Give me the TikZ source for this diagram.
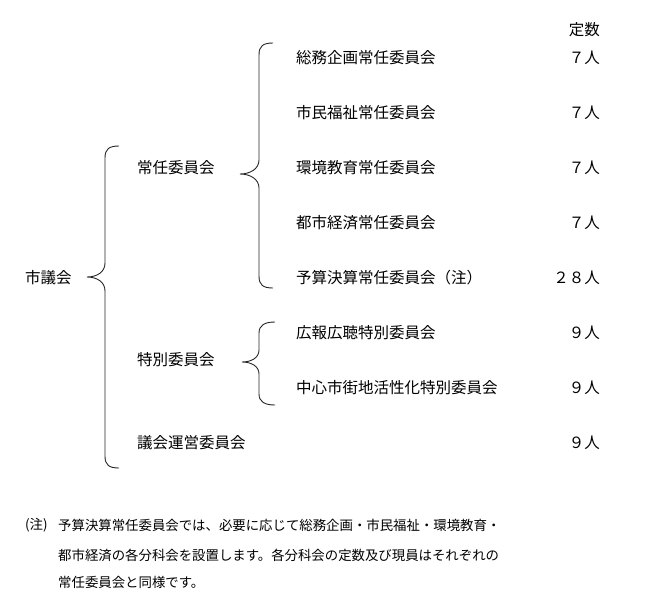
\documentclass[tikz,border=0pt]{standalone}
\usepackage{fontspec}
\setmainfont{Noto Sans CJK JP}
\tikzset{
  lbl/.style={anchor=west, inner sep=0pt, font=\fontsize{15.5pt}{17pt}\selectfont},
  num/.style={anchor=east, inner sep=0pt, font=\fontsize{15.5pt}{17pt}\selectfont},
  note/.style={anchor=west, inner sep=0pt, font=\fontsize{13.4pt}{15pt}\selectfont},
  brace/.style={draw=black!85, line width=0.9pt}
}
\begin{document}
\begin{tikzpicture}[x=1pt,y=-1pt]
\useasboundingbox (0,0) rectangle (650,608);
% header
\node[num] (hdr) at (600,30) {定数};
% level 1
\node[lbl] (shi) at (25,278) {市議会};
% level 2
\node[lbl] (jonin) at (137,168) {常任委員会};
\node[lbl] (tokubetsu) at (137,360) {特別委員会};
\node[lbl] (unei) at (137,443) {議会運営委員会};
% level 3
\node[lbl] (c1) at (296,58) {総務企画常任委員会};
\node[lbl] (c2) at (296,113) {市民福祉常任委員会};
\node[lbl] (c3) at (296,168) {環境教育常任委員会};
\node[lbl] (c4) at (296,223) {都市経済常任委員会};
\node[lbl] (c5) at (296,278) {予算決算常任委員会（注）};
\node[lbl] (s1) at (296,333) {広報広聴特別委員会};
\node[lbl] (s2) at (296,388) {中心市街地活性化特別委員会};
% numbers
\node[num] (n1) at (600,58) {７人};
\node[num] (n2) at (600,113) {７人};
\node[num] (n3) at (600,168) {７人};
\node[num] (n4) at (600,223) {７人};
\node[num] (n5) at (600,278) {２８人};
\node[num] (n6) at (600,333) {９人};
\node[num] (n7) at (600,388) {９人};
\node[num] (n8) at (600,443) {９人};
% braces
\draw[brace] (119,146) .. controls (109,146) and (105,149) .. (105,158)
  -- (105,263) .. controls (105,272) and (97,277) .. (87,277)
  .. controls (97,277) and (105,282) .. (105,291)
  -- (105,456) .. controls (105,465) and (109,468) .. (119,468);
\draw[brace] (273,43) .. controls (263,43) and (259,46) .. (259,55)
  -- (259,160) .. controls (259,169) and (250,174) .. (240,174)
  .. controls (250,174) and (259,179) .. (259,188)
  -- (259,276) .. controls (259,285) and (263,288) .. (273,288);
\draw[brace] (275,322) .. controls (265,322) and (259,325) .. (259,333)
  -- (259,350) .. controls (259,358) and (251,362) .. (242,362)
  .. controls (251,362) and (259,366) .. (259,374)
  -- (259,394) .. controls (259,402) and (265,405) .. (275,405);
% note
\node[note] (nmark) at (25,525) {(注)};
\node[note] (nl1) at (58,525) {予算決算常任委員会では、必要に応じて総務企画・市民福祉・環境教育・};
\node[note] (nl2) at (58,555) {都市経済の各分科会を設置します。各分科会の定数及び現員はそれぞれの};
\node[note] (nl3) at (58,582) {常任委員会と同様です。};
\end{tikzpicture}
\end{document}
